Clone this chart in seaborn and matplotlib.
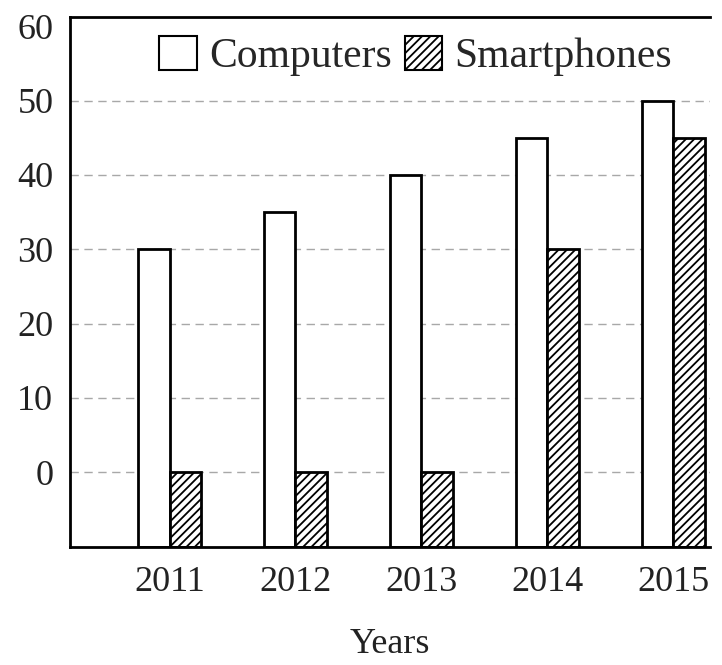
import pandas as pd
import matplotlib.pyplot as plt
import seaborn as sns
from matplotlib.patches import Patch

# ----------------------------
# Data
# ----------------------------
years = ["2011", "2012", "2013", "2014", "2015"]
computers = [30, 35, 40, 45, 50]
smartphones = [0, 0, 0, 30, 45]
y_ticks = [0, 10, 20, 30, 40, 50, 60]
baseline = -10

df = pd.DataFrame({
    "year": years * 2,
    "value": computers + smartphones,
    "device": ["Computers"] * len(years) + ["Smartphones"] * len(years),
})

# ----------------------------
# Plot
# ----------------------------
sns.set_style("white")
plt.rcParams["font.family"] = ["Liberation Serif", "DejaVu Serif"]
plt.rcParams["hatch.linewidth"] = 1.3

fig = plt.figure(figsize=(7.22, 6.65), dpi=100)
ax = fig.add_axes([0.097, 0.178, 0.886, 0.797])

sns.barplot(data=df, x="year", y="value", hue="device",
            palette=["white", "white"], width=0.5, edgecolor="black",
            linewidth=2, legend=False, ax=ax)

# smartphone bars are hatched; all bars rise from the axis floor
n = len(years)
for i, bar in enumerate(ax.patches):
    top = bar.get_height()
    bar.set_y(baseline)
    bar.set_height(top - baseline)
    if i >= n:
        bar.set_hatch("////")

ax.set_ylim(baseline, 61.3)
ax.set_xlim(-0.79, 4.29)
ax.set_yticks(y_ticks)
ax.hlines(y_ticks[:-1], -0.79, 4.29, colors="#a8a8a8", linestyles=(0, (6, 4)),
          linewidth=1, zorder=0)

for side in ["left", "bottom", "top"]:
    ax.spines[side].set_linewidth(2)
    ax.spines[side].set_color("black")
ax.spines["right"].set_visible(False)

ax.tick_params(axis="both", length=0, labelsize=26, colors="#222222")
ax.tick_params(axis="x", pad=14)
ax.tick_params(axis="y", pad=12)
ax.set_xlabel("Years", fontsize=26, labelpad=21, color="#222222")
ax.set_ylabel("")

handles = [
    Patch(facecolor="white", edgecolor="black", linewidth=1.5, label="Computers"),
    Patch(facecolor="white", edgecolor="black", linewidth=1.5, hatch="////",
          label="Smartphones"),
]
ax.legend(handles=handles, loc="upper right", bbox_to_anchor=(1.0, 1.035),
          ncol=2, frameon=False, fontsize=30, handlelength=0.9,
          handleheight=0.9, handletextpad=0.3, columnspacing=0.3)

fig.savefig("out.png", dpi=100, facecolor="white")
